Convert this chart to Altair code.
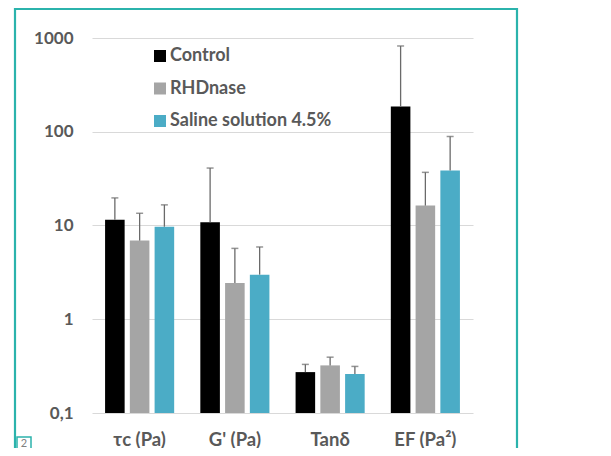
import altair as alt
import pandas as pd

categories = ["τc (Pa)", "G' (Pa)", "Tanδ", "EF (Pa²)"]
series = ["Control", "RHDnase", "Saline solution 4.5%"]
colors = ["#000000", "#A5A5A5", "#4BACC6"]

control = [11.5, 10.8, 0.273, 186]
control_err = [19.7, 41, 0.33, 822]
rhdnase = [6.9, 2.43, 0.322, 16.3]
rhdnase_err = [13.5, 5.7, 0.394, 36.9]
saline = [9.7, 2.99, 0.26, 38.7]
saline_err = [16.6, 5.9, 0.314, 89]

rows = []
for s, vals, errs in [(series[0], control, control_err),
                      (series[1], rhdnase, rhdnase_err),
                      (series[2], saline, saline_err)]:
    for c, v, e in zip(categories, vals, errs):
        rows.append({"cat": c, "series": s, "value": v, "err": e})
df = pd.DataFrame(rows)

FONT = "Lato"
TXT = "#595959"

x_enc = alt.X("cat:N", sort=categories,
              scale=alt.Scale(paddingInner=0.22, paddingOuter=0.11),
              axis=alt.Axis(title=None, labelAngle=0, ticks=False, domain=False,
                            labelFont=FONT, labelFontSize=18.5, labelFontWeight="bold",
                            labelColor=TXT, labelPadding=17))
xo_enc = alt.XOffset("series:N", sort=series,
                     scale=alt.Scale(paddingInner=0.21, paddingOuter=0.105))
y_scale = alt.Scale(type="log", domain=[0.1, 1000])

base = alt.Chart(df)

bars = base.mark_bar().encode(
    x=x_enc,
    xOffset=xo_enc,
    y=alt.Y("value:Q", scale=y_scale,
            axis=alt.Axis(title=None, values=[0.1, 1, 10, 100, 1000],
                          labelExpr="datum.value < 1 ? '0,1' : format(datum.value, 'd')",
                          ticks=False, domain=False, grid=True, gridColor="#D9D9D9",
                          gridWidth=1.2, labelFont=FONT, labelFontSize=17,
                          labelFontWeight="bold", labelColor=TXT, labelPadding=19)),
    y2=alt.Y2(datum=0.1),
    color=alt.Color("series:N", sort=series,
                    scale=alt.Scale(domain=series, range=colors),
                    legend=alt.Legend(title=None, orient="none", legendX=59, legendY=9,
                                      symbolType="square", symbolSize=144,
                                      symbolStrokeWidth=0, labelFont=FONT,
                                      labelFontSize=18, labelFontWeight="bold",
                                      labelColor=TXT, rowPadding=14.5, padding=0,
                                      labelOffset=1, labelLimit=400)),
)

rules = base.mark_rule(color="#6A6A6A", strokeWidth=1.3).encode(
    x=x_enc, xOffset=xo_enc,
    y=alt.Y("value:Q", scale=y_scale),
    y2="err:Q",
)

caps = base.mark_tick(color="#6A6A6A", orient="horizontal", size=7, thickness=1.5).encode(
    x=x_enc, xOffset=xo_enc,
    y=alt.Y("err:Q", scale=y_scale),
)

frame = alt.Chart(pd.DataFrame({"a": [0]})).mark_rect(
    fill=None, stroke="#2BB3AC", strokeWidth=2.2, clip=False
).encode(x=alt.value(-77), x2=alt.value(425), y=alt.value(-29), y2=alt.value(440))

box = alt.Chart(pd.DataFrame({"a": [0]})).mark_rect(
    fill=None, stroke="#2BB3AC", strokeWidth=1.5, clip=False
).encode(x=alt.value(-75), x2=alt.value(-61), y=alt.value(399), y2=alt.value(440))

box_txt = alt.Chart(pd.DataFrame({"t": ["2"]})).mark_text(
    font=FONT, fontSize=11, color="#808080", baseline="top", align="center"
).encode(x=alt.value(-68), y=alt.value(400), text="t:N")

chart = alt.layer(frame, bars, rules, caps, box, box_txt).properties(
    width=381, height=375,
    padding={"left": 84, "top": 30, "right": 130, "bottom": 35},
    autosize="none", background="white",
).configure_view(stroke=None)

chart.save("out.html", embed_options={"renderer": "svg", "actions": False})
